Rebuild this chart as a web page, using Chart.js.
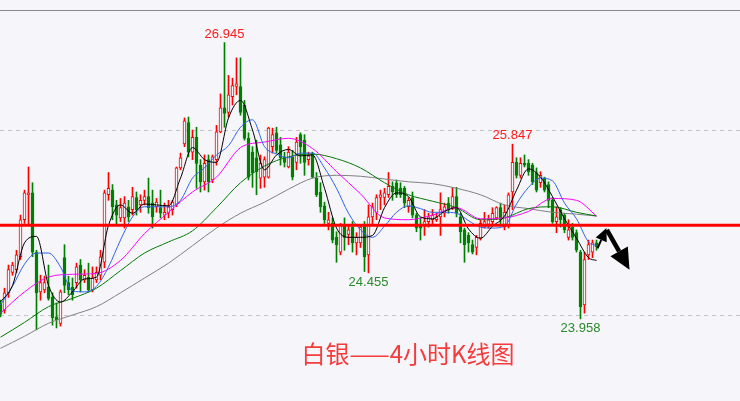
<!DOCTYPE html>
<html lang="zh">
<head>
<meta charset="UTF-8">
<title>白银 4小时K线图</title>
<script src="https://cdn.jsdelivr.net/npm/chart.js"></script>
<style>
    html, body {
        margin: 0;
        padding: 0;
        background: #f5f5fa;
    }
    #chartBox {
        width: 740px;
        height: 401px;
    }
</style>
</head>
<body>
<div id="chartBox"><canvas id="kline" width="740" height="401"></canvas></div>
<script>
// 4h candles, oldest first
const opens = [
    24.13, 24.05, 24.24, 24.46, 24.49, 24.63, 25.03, 25.30, 25.32, 24.68,
    24.25, 24.27, 24.30, 24.19, 23.98, 23.91, 24.62, 24.35, 24.30, 24.35,
    24.54, 24.38, 24.41, 24.27, 24.38, 24.43, 24.57, 25.30, 25.35, 25.19,
    25.05, 25.05, 25.17, 25.14, 25.27, 25.19, 25.24, 25.28, 25.21, 25.17,
    25.16, 25.08, 25.10, 25.14, 25.19, 25.59, 25.85, 26.08, 25.76, 25.92,
    25.62, 25.44, 25.68, 25.46, 25.68, 25.98, 26.24, 26.19, 26.36, 26.47,
    26.47, 26.27, 25.91, 25.76, 25.70, 25.48, 25.49, 25.49, 25.82, 25.97,
    25.84, 25.71, 25.60, 25.71, 25.65, 25.95, 25.89, 25.68, 25.75, 25.48,
    25.33, 25.18, 24.99, 24.99, 24.84, 24.68, 24.97, 24.87, 24.95, 24.78,
    24.78, 24.97, 24.65, 25.06, 25.11, 25.27, 25.27, 25.30, 25.39, 25.43,
    25.37, 25.37, 25.17, 25.27, 25.08, 24.96, 24.96, 25.01, 25.03, 25.03,
    25.06, 25.10, 25.21, 25.16, 25.28, 25.06, 24.92, 24.86, 24.76, 24.73,
    24.83, 24.95, 24.98, 25.01, 25.05, 25.16, 24.95, 24.97, 25.33, 25.65,
    25.51, 25.64, 25.64, 25.62, 25.54, 25.43, 25.48, 25.41, 25.24, 25.01,
    25.14, 25.08, 24.84, 24.95, 24.89, 24.68, 24.11, 24.65, 24.68, 24.78
];
const highs = [
    24.16, 24.29, 24.54, 24.57, 24.70, 25.08, 25.35, 25.60, 25.43, 24.70,
    24.43, 24.42, 24.54, 24.24, 24.13, 24.27, 24.76, 24.42, 24.40, 24.56,
    24.60, 24.49, 24.56, 24.52, 24.52, 24.70, 25.35, 25.54, 25.41, 25.24,
    25.26, 25.28, 25.24, 25.38, 25.33, 25.30, 25.35, 25.48, 25.35, 25.26,
    25.35, 25.21, 25.24, 25.24, 25.60, 25.75, 26.13, 26.14, 26.00, 26.03,
    25.68, 25.73, 25.73, 25.73, 26.05, 26.39, 26.945, 26.59, 26.56, 26.78,
    26.78, 26.32, 25.97, 25.82, 25.89, 25.73, 25.71, 26.03, 26.02, 26.03,
    25.92, 25.76, 25.82, 25.78, 25.92, 25.97, 25.95, 25.76, 25.76, 25.54,
    25.43, 25.22, 25.11, 25.05, 24.90, 24.99, 25.05, 24.97, 25.01, 24.89,
    24.97, 25.01, 25.19, 25.21, 25.30, 25.35, 25.37, 25.54, 25.44, 25.46,
    25.43, 25.39, 25.27, 25.33, 25.10, 25.05, 25.14, 25.10, 25.14, 25.10,
    25.32, 25.21, 25.27, 25.38, 25.38, 25.10, 24.94, 24.89, 24.81, 24.86,
    25.03, 25.11, 25.08, 25.16, 25.17, 25.21, 25.19, 25.32, 25.847, 25.70,
    25.70, 25.73, 25.68, 25.64, 25.59, 25.55, 25.49, 25.44, 25.27, 25.17,
    25.16, 25.10, 25.03, 24.99, 24.92, 24.70, 24.68, 24.81, 24.81, 24.81
];
const lows = [
    23.98, 24.02, 24.19, 24.43, 24.46, 24.60, 24.99, 24.97, 24.63, 23.84,
    24.16, 24.24, 24.16, 23.89, 23.86, 23.88, 24.24, 24.22, 24.16, 24.29,
    24.25, 24.35, 24.25, 24.25, 24.35, 24.38, 24.51, 25.24, 25.03, 24.97,
    25.01, 24.94, 25.01, 25.08, 25.08, 25.11, 25.19, 25.10, 24.94, 25.11,
    25.05, 25.03, 25.05, 25.08, 25.17, 25.57, 25.82, 25.71, 25.68, 25.37,
    25.33, 25.35, 25.33, 25.43, 25.62, 25.97, 26.03, 26.14, 26.27, 26.38,
    26.16, 25.89, 25.46, 25.38, 25.30, 25.37, 25.38, 25.48, 25.75, 25.75,
    25.62, 25.60, 25.59, 25.46, 25.57, 25.64, 25.51, 25.62, 25.48, 25.28,
    25.11, 24.99, 24.92, 24.78, 24.57, 24.65, 24.70, 24.76, 24.68, 24.65,
    24.73, 24.47, 24.455, 24.97, 25.03, 25.14, 25.19, 25.27, 25.24, 25.27,
    25.27, 25.16, 25.11, 25.05, 24.90, 24.81, 24.86, 24.95, 24.97, 25.01,
    24.86, 25.06, 25.10, 25.14, 25.06, 24.78, 24.57, 24.68, 24.66, 24.65,
    24.81, 24.94, 24.94, 24.97, 25.03, 24.97, 24.92, 24.94, 25.14, 25.48,
    25.48, 25.60, 25.51, 25.41, 25.33, 25.38, 25.33, 25.16, 24.99, 24.89,
    24.95, 24.89, 24.81, 24.81, 24.68, 23.958, 24.02, 24.60, 24.62, 24.70
];
const closes = [
    24.01, 24.24, 24.49, 24.54, 24.65, 25.03, 25.32, 25.32, 24.68, 24.24,
    24.35, 24.35, 24.18, 23.97, 23.95, 24.25, 24.32, 24.27, 24.22, 24.52,
    24.38, 24.43, 24.27, 24.40, 24.46, 24.63, 25.32, 25.37, 25.17, 25.08,
    25.16, 25.21, 25.06, 25.28, 25.14, 25.24, 25.28, 25.16, 25.06, 25.22,
    25.10, 25.11, 25.17, 25.22, 25.59, 25.70, 26.10, 25.76, 25.92, 25.64,
    25.44, 25.64, 25.44, 25.71, 25.98, 26.24, 26.18, 26.38, 26.48, 26.50,
    26.19, 25.91, 25.49, 25.54, 25.55, 25.64, 25.68, 26.02, 25.95, 25.78,
    25.70, 25.65, 25.76, 25.49, 25.87, 25.82, 25.65, 25.72, 25.49, 25.30,
    25.17, 25.03, 25.03, 24.81, 24.76, 24.97, 24.84, 24.92, 24.78, 24.84,
    24.95, 24.63, 25.06, 25.17, 25.27, 25.30, 25.32, 25.39, 25.33, 25.30,
    25.30, 25.21, 25.24, 25.08, 24.94, 24.94, 25.01, 25.06, 25.08, 25.06,
    25.14, 25.17, 25.14, 25.28, 25.10, 24.90, 24.76, 24.78, 24.68, 24.84,
    24.99, 25.01, 25.03, 25.10, 25.16, 25.03, 25.11, 25.30, 25.65, 25.51,
    25.64, 25.62, 25.55, 25.44, 25.35, 25.51, 25.35, 25.24, 25.01, 25.06,
    25.03, 24.92, 24.92, 24.84, 24.70, 24.09, 24.60, 24.76, 24.78, 24.74
];

// moving averages, sampled along the candle index
const fastIdx = [0, 3, 6, 9, 12, 15, 18, 21, 24, 27, 30, 33, 36, 39, 42, 45, 48,
    51, 54, 57, 60, 63, 66, 69, 72, 75, 78, 81, 84, 87, 90, 93, 96, 99, 102, 105,
    108, 111, 114, 117, 120, 123, 126, 129, 132, 135, 138, 141, 144, 147, 149];
const ma5 = [24.14, 24.32, 24.78, 24.85, 24.32, 24.14, 24.25, 24.39, 24.41, 24.97,
    25.19, 25.10, 25.20, 25.19, 25.18, 25.48, 25.81, 25.68, 25.65, 26.13,
    26.32, 26.00, 25.57, 25.73, 25.79, 25.72, 25.73, 25.37, 24.94, 24.84,
    24.84, 24.86, 25.16, 25.32, 25.28, 25.06, 25.04, 25.12, 25.16, 24.93,
    24.83, 24.96, 25.07, 25.35, 25.58, 25.49, 25.28, 25.04, 24.83, 24.62, 24.59];
const ma10 = [24.11, 24.31, 24.55, 24.67, 24.67, 24.52, 24.26, 24.25, 24.31, 24.52,
    24.81, 25.06, 25.17, 25.17, 25.17, 25.24, 25.48, 25.59, 25.73, 25.83,
    26.03, 26.11, 25.82, 25.74, 25.70, 25.75, 25.75, 25.59, 25.37, 25.10,
    24.92, 24.84, 24.96, 25.11, 25.18, 25.15, 25.11, 25.11, 25.10, 25.02,
    24.95, 24.94, 24.96, 25.20, 25.38, 25.48, 25.45, 25.21, 25.04, 24.79, 24.75];

const slowIdx = [0, 6, 12, 18, 24, 30, 36, 42, 48, 54, 60, 66, 72, 78, 84, 90, 96,
    102, 108, 114, 120, 126, 132, 138, 144, 149];
const ma20 = [24.02, 24.25, 24.41, 24.44, 24.45, 24.59, 24.88, 25.11, 25.33, 25.49,
    25.81, 25.87, 25.91, 25.80, 25.55, 25.31, 25.05, 25.03, 25.08, 25.16,
    25.04, 25.05, 25.12, 25.26, 25.24, 25.07];
const ma40 = [23.76, 23.92, 24.09, 24.18, 24.29, 24.48, 24.67, 24.79, 24.91, 25.16,
    25.43, 25.61, 25.71, 25.74, 25.69, 25.59, 25.43, 25.30, 25.23, 25.16,
    25.03, 25.05, 25.15, 25.17, 25.11, 25.07];
const ma60 = [23.64, 23.77, 23.91, 24.00, 24.09, 24.24, 24.40, 24.56, 24.75, 24.94,
    25.10, 25.22, 25.36, 25.48, 25.51, 25.50, 25.47, 25.44, 25.42, 25.37,
    25.30, 25.19, 25.15, 25.11, 25.09, 25.07];

// marked extremes: candle index and which end
const markIdx = [56, 128, 92, 145];
const markSide = ['high', 'high', 'low', 'low'];

const gridLevels = [24, 26];
const supportLevel = 24.97;

// hand drawn arrows (candle index, price)
const arrowFrom = [[149.25, 24.72], [151.6, 24.92]];
const arrowTo = [[151.5, 24.94], [157.25, 24.49]];

const titleText = '白银——4小时K线图';

const BG = '#f5f5fa';
const UP = '#ff0000';
const DOWN = '#008000';

const idx = opens.map((_, i) => i);
const isUp = idx.map(i => closes[i] >= opens[i]);

const wickData = idx.map(i => ({ x: i, y: [lows[i], highs[i]] }));
const bodyData = idx.map(i => ({
    x: i,
    y: [Math.min(opens[i], closes[i]), Math.max(opens[i], closes[i])]
}));

function maLine(xs, ys, color) {
    return {
        type: 'line',
        data: xs.map((x, k) => ({ x: x, y: ys[k] })),
        borderColor: color,
        borderWidth: 1,
        pointRadius: 0,
        cubicInterpolationMode: 'monotone',
        fill: false,
        order: 0
    };
}

function drawArrow(ctx, x0, y0, x1, y1, shaft, headLen, headHalf) {
    const dx = x1 - x0, dy = y1 - y0;
    const len = Math.sqrt(dx * dx + dy * dy);
    const ux = dx / len, uy = dy / len;
    const bx = x1 - ux * headLen, by = y1 - uy * headLen;
    ctx.beginPath();
    ctx.lineWidth = shaft;
    ctx.moveTo(x0, y0);
    ctx.lineTo(bx, by);
    ctx.stroke();
    ctx.beginPath();
    ctx.moveTo(x1, y1);
    ctx.lineTo(bx - uy * headHalf, by + ux * headHalf);
    ctx.lineTo(bx + uy * headHalf, by - ux * headHalf);
    ctx.closePath();
    ctx.fill();
}

const decorations = {
    id: 'decorations',
    beforeDatasetsDraw(chart) {
        const ctx = chart.ctx;
        const ys = chart.scales.y;
        ctx.save();
        // frame line on top
        ctx.strokeStyle = '#8a8a8a';
        ctx.lineWidth = 1;
        ctx.beginPath();
        ctx.moveTo(0, 10.5);
        ctx.lineTo(chart.width, 10.5);
        ctx.stroke();
        // dashed price grid
        ctx.strokeStyle = '#c4c4c8';
        ctx.setLineDash([4, 4]);
        gridLevels.forEach(v => {
            const y = Math.round(ys.getPixelForValue(v)) + 0.5;
            ctx.beginPath();
            ctx.moveTo(0, y);
            ctx.lineTo(chart.width, y);
            ctx.stroke();
        });
        ctx.restore();
    },
    afterDatasetsDraw(chart) {
        const ctx = chart.ctx;
        const xs = chart.scales.x;
        const ys = chart.scales.y;
        ctx.save();
        // support line
        ctx.strokeStyle = '#ff0000';
        ctx.lineWidth = 3;
        const sy = ys.getPixelForValue(supportLevel);
        ctx.beginPath();
        ctx.moveTo(0, sy);
        ctx.lineTo(chart.width, sy);
        ctx.stroke();

        // extreme labels
        ctx.font = '13px "Liberation Sans", Arial, sans-serif';
        ctx.textAlign = 'center';
        markIdx.forEach((i, k) => {
            const x = xs.getPixelForValue(i);
            if (markSide[k] === 'high') {
                ctx.fillStyle = '#ff1a1a';
                ctx.textBaseline = 'bottom';
                ctx.fillText(highs[i].toFixed(3), x, ys.getPixelForValue(highs[i]) - 2);
            } else {
                ctx.fillStyle = '#2a8a2a';
                ctx.textBaseline = 'top';
                ctx.fillText(lows[i].toFixed(3), x, ys.getPixelForValue(lows[i]) + 3);
            }
        });

        // arrows
        ctx.fillStyle = '#000';
        ctx.strokeStyle = '#000';
        const sizes = [[2, 13, 6], [4.5, 21, 10]];
        arrowFrom.forEach((a, k) => {
            const b = arrowTo[k];
            drawArrow(ctx,
                xs.getPixelForValue(a[0]), ys.getPixelForValue(a[1]),
                xs.getPixelForValue(b[0]), ys.getPixelForValue(b[1]),
                sizes[k][0], sizes[k][1], sizes[k][2]);
        });

        // title
        ctx.fillStyle = '#f53c3c';
        ctx.font = '24px "Noto Sans CJK SC", sans-serif';
        ctx.textAlign = 'center';
        ctx.textBaseline = 'middle';
        ctx.fillText(titleText, 408, 354);
        ctx.restore();
    }
};

new Chart(document.getElementById('kline'), {
    type: 'bar',
    data: {
        datasets: [
            maLine(fastIdx, ma5, '#000000'),
            maLine(fastIdx, ma10, '#2f62e8'),
            maLine(slowIdx, ma20, '#ff00ff'),
            maLine(slowIdx, ma40, '#007a00'),
            maLine(slowIdx, ma60, '#808080'),
            {
                data: bodyData,
                backgroundColor: isUp.map(u => u ? BG : DOWN),
                borderColor: isUp.map(u => u ? UP : DOWN),
                borderWidth: 1,
                borderSkipped: false,
                barThickness: 3,
                grouped: false,
                order: 1
            },
            {
                data: wickData,
                backgroundColor: isUp.map(u => u ? UP : DOWN),
                borderWidth: 0,
                barThickness: 1,
                grouped: false,
                order: 2
            }
        ]
    },
    options: {
        responsive: false,
        devicePixelRatio: 1,
        animation: false,
        layout: { padding: 0 },
        scales: {
            x: {
                type: 'linear',
                display: false,
                offset: false,
                min: -0.125,
                max: 184.875
            },
            y: {
                type: 'linear',
                display: false,
                beginAtZero: false,
                min: 23.0703,
                max: 27.4054
            }
        },
        plugins: {
            legend: { display: false },
            tooltip: { enabled: false }
        }
    },
    plugins: [decorations]
});
</script>
</body>
</html>
